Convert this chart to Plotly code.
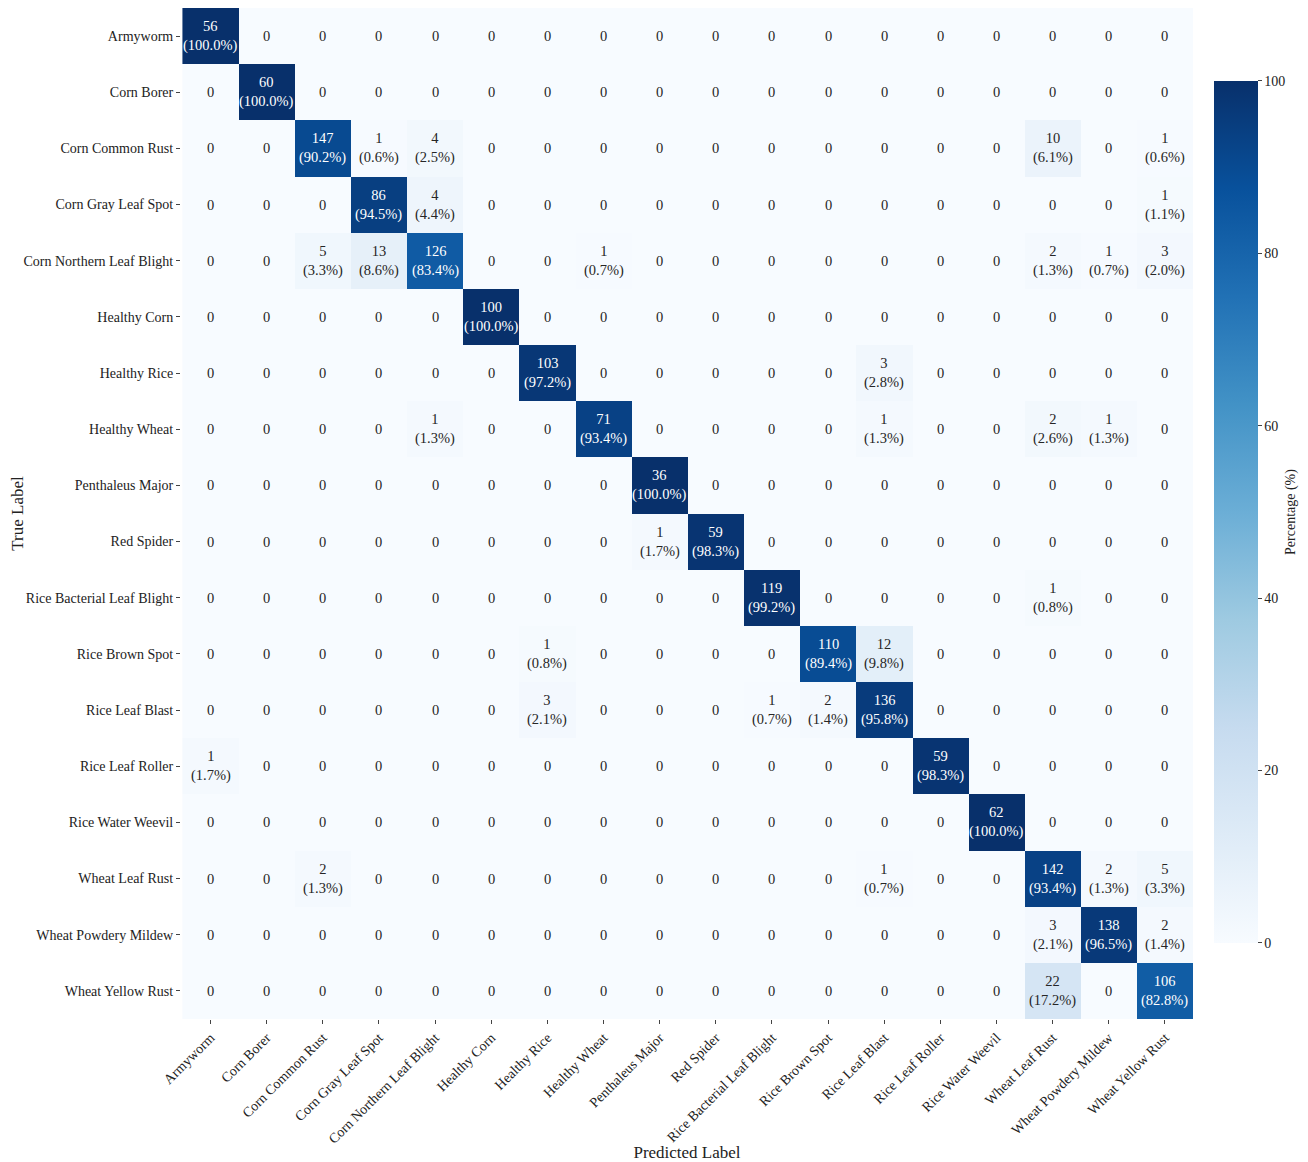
import numpy as np
import plotly.graph_objects as go

classes = [
    "Armyworm", "Corn Borer", "Corn Common Rust", "Corn Gray Leaf Spot",
    "Corn Northern Leaf Blight", "Healthy Corn", "Healthy Rice", "Healthy Wheat",
    "Penthaleus Major", "Red Spider", "Rice Bacterial Leaf Blight", "Rice Brown Spot",
    "Rice Leaf Blast", "Rice Leaf Roller", "Rice Water Weevil", "Wheat Leaf Rust",
    "Wheat Powdery Mildew", "Wheat Yellow Rust",
]

# confusion matrix counts (rows = true, cols = predicted)
cm = [
    [56, 0, 0, 0, 0, 0, 0, 0, 0, 0, 0, 0, 0, 0, 0, 0, 0, 0],
    [0, 60, 0, 0, 0, 0, 0, 0, 0, 0, 0, 0, 0, 0, 0, 0, 0, 0],
    [0, 0, 147, 1, 4, 0, 0, 0, 0, 0, 0, 0, 0, 0, 0, 10, 0, 1],
    [0, 0, 0, 86, 4, 0, 0, 0, 0, 0, 0, 0, 0, 0, 0, 0, 0, 1],
    [0, 0, 5, 13, 126, 0, 0, 1, 0, 0, 0, 0, 0, 0, 0, 2, 1, 3],
    [0, 0, 0, 0, 0, 100, 0, 0, 0, 0, 0, 0, 0, 0, 0, 0, 0, 0],
    [0, 0, 0, 0, 0, 0, 103, 0, 0, 0, 0, 0, 3, 0, 0, 0, 0, 0],
    [0, 0, 0, 0, 1, 0, 0, 71, 0, 0, 0, 0, 1, 0, 0, 2, 1, 0],
    [0, 0, 0, 0, 0, 0, 0, 0, 36, 0, 0, 0, 0, 0, 0, 0, 0, 0],
    [0, 0, 0, 0, 0, 0, 0, 0, 1, 59, 0, 0, 0, 0, 0, 0, 0, 0],
    [0, 0, 0, 0, 0, 0, 0, 0, 0, 0, 119, 0, 0, 0, 0, 1, 0, 0],
    [0, 0, 0, 0, 0, 0, 1, 0, 0, 0, 0, 110, 12, 0, 0, 0, 0, 0],
    [0, 0, 0, 0, 0, 0, 3, 0, 0, 0, 1, 2, 136, 0, 0, 0, 0, 0],
    [1, 0, 0, 0, 0, 0, 0, 0, 0, 0, 0, 0, 0, 59, 0, 0, 0, 0],
    [0, 0, 0, 0, 0, 0, 0, 0, 0, 0, 0, 0, 0, 0, 62, 0, 0, 0],
    [0, 0, 2, 0, 0, 0, 0, 0, 0, 0, 0, 0, 1, 0, 0, 142, 2, 5],
    [0, 0, 0, 0, 0, 0, 0, 0, 0, 0, 0, 0, 0, 0, 0, 3, 138, 2],
    [0, 0, 0, 0, 0, 0, 0, 0, 0, 0, 0, 0, 0, 0, 0, 22, 0, 106],
]

blues = ["#f7fbff", "#deebf7", "#c6dbef", "#9ecae1", "#6baed6",
         "#4292c6", "#2171b5", "#08519c", "#08306b"]
colorscale = [[i / (len(blues) - 1), c] for i, c in enumerate(blues)]

counts = np.array(cm)
pct = counts / counts.sum(axis=1, keepdims=True) * 100

font = "Liberation Serif, Times New Roman, serif"

fig = go.Figure(go.Heatmap(
    z=pct, x=classes, y=classes,
    colorscale=colorscale, zmin=0, zmax=100,
    hoverinfo="skip",
    colorbar=dict(
        x=1.0207, xanchor="left", xpad=0, y=0.5015, yanchor="middle", ypad=0,
        len=0.853, thickness=44, outlinewidth=0, ticks="outside", ticklen=4,
        tickvals=[0, 20, 40, 60, 80, 100], tickfont=dict(size=14, family=font),
    ),
))

annotations = []
for i, row in enumerate(classes):
    for j, col in enumerate(classes):
        n = counts[i, j]
        p = pct[i, j]
        txt = "0" if n == 0 else f"{n}<br>({p:.1f}%)"
        color = "white" if p > 50 else "#262626"
        annotations.append(dict(x=col, y=row, text=txt, showarrow=False,
                                font=dict(size=14.5, family=font, color=color)))

# colorbar title, placed by hand to sit further right like the original
annotations.append(dict(x=1.0968, y=0.5015, xref="paper", yref="paper",
                        xanchor="center", yanchor="middle",
                        text="Percentage (%)", textangle=-90, showarrow=False,
                        font=dict(size=14, family=font, color="#222")))

# page body has an 8px margin, so the figure is sized to fit the window
fig.update_layout(
    width=1300, height=1154,
    margin=dict(l=173, r=115, t=0, b=143),
    paper_bgcolor="white", plot_bgcolor="white",
    font=dict(family=font, size=14, color="#222"),
    annotations=annotations,
    xaxis=dict(title=dict(text="Predicted Label", standoff=6), tickangle=-45,
               ticks="outside", ticklen=4, showgrid=False, zeroline=False,
               tickfont=dict(size=14), automargin=False),
    yaxis=dict(title=dict(text="True Label", standoff=2), autorange="reversed",
               ticks="outside", ticklen=4, showgrid=False, zeroline=False,
               tickfont=dict(size=14), automargin=False),
)

fig.write_html("out.html")
